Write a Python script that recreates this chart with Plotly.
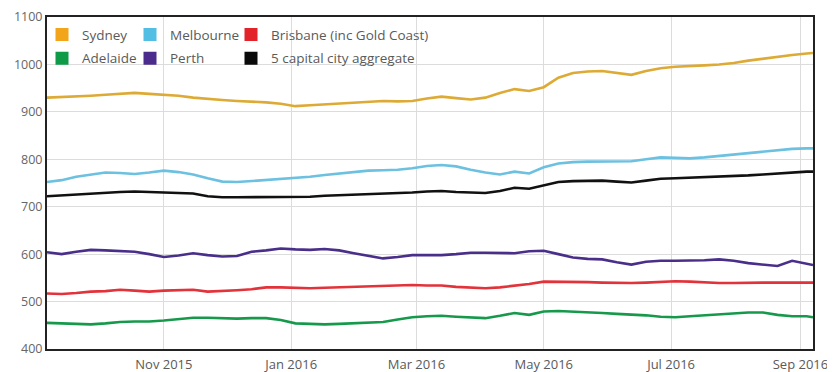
import plotly.graph_objects as go
import pandas as pd

# ---- data (weekly readings) ----
dates = list(pd.date_range("2015-09-06", "2016-09-04", freq="7D").strftime("%Y-%m-%d")) + ["2016-09-07"]

sydney = [930, 931, 932, 934, 936, 938, 940, 938, 936, 934, 930, 927, 925, 923, 922, 920, 917, 912,
          914, 916, 918, 920, 922, 923, 922, 923, 928, 932, 929, 926, 930, 940, 948, 944, 952, 972,
          982, 985, 986, 982, 978, 986, 992, 995, 996, 998, 1000, 1003, 1008, 1012, 1017, 1020, 1023, 1024]
melbourne = [752, 756, 763, 768, 772, 771, 769, 772, 776, 773, 768, 760, 753, 752, 754, 756, 758, 761,
             763, 767, 770, 774, 776, 777, 778, 781, 786, 788, 785, 778, 772, 768, 774, 770, 783, 791,
             794, 795, 795, 795, 796, 800, 804, 803, 802, 804, 807, 810, 813, 816, 819, 822, 823, 823]
brisbane = [517, 516, 518, 521, 522, 525, 523, 521, 523, 524, 525, 521, 522, 524, 526, 530, 530, 529,
            528, 529, 530, 531, 532, 533, 534, 535, 534, 534, 531, 529, 528, 530, 533, 537, 542, 542,
            541, 541, 540, 539, 539, 540, 542, 543, 542, 540, 539, 539, 540, 540, 540, 540, 540, 540]
adelaide = [455, 454, 452, 452, 454, 457, 458, 458, 460, 463, 466, 466, 465, 464, 465, 465, 461, 454,
            453, 452, 453, 454, 455, 457, 462, 467, 469, 470, 468, 466, 465, 470, 476, 472, 479, 480,
            479, 477, 476, 474, 473, 471, 468, 467, 469, 471, 473, 476, 477, 477, 472, 469, 469, 467]
perth = [604, 600, 605, 609, 608, 606, 605, 600, 594, 597, 602, 598, 595, 596, 605, 608, 612, 610,
         609, 611, 608, 602, 597, 591, 594, 598, 598, 598, 600, 603, 603, 602, 602, 606, 607, 600,
         593, 590, 589, 583, 578, 584, 586, 586, 586, 587, 589, 586, 581, 578, 575, 586, 580, 577]
aggregate = [722, 724, 726, 728, 729, 731, 732, 731, 730, 730, 728, 722, 720, 720, 720, 721, 721, 720,
             721, 723, 724, 725, 726, 727, 728, 730, 732, 733, 731, 730, 729, 733, 740, 738, 745, 752,
             754, 755, 755, 753, 751, 755, 759, 760, 761, 762, 763, 765, 766, 768, 770, 773, 774, 774]

series_names = ["Sydney", "Melbourne", "Brisbane (inc Gold Coast)",
                "Adelaide", "Perth", "5 capital city aggregate"]
series_values = [sydney, melbourne, brisbane, adelaide, perth, aggregate]
series_colors = ["#F2A41A", "#52BEE3", "#E2232A", "#0F9A48", "#4B2C8C", "#0A0A0A"]
line_colors = ["#DDAA35", "#6CC0E0", "#E2323A", "#17994C", "#4A2F8A", "#111111"]

tick_vals = ["2015-11-01", "2016-01-01", "2016-03-01", "2016-05-01", "2016-07-01", "2016-09-01"]
tick_text = ["Nov 2015", "Jan 2016", "Mar 2016", "May 2016", "Jul 2016", "Sep 2016"]
y_ticks = [400, 500, 600, 700, 800, 900, 1000, 1100]

# page body has an 8px default margin, so the figure sits 8px right/down in the window
OFF = 8
W, H = 835, 372
ML, MR, MT, MB = 39, 30, 9, 31
PW, PH = W - ML - MR, H - MT - MB

fig = go.Figure()
legend_of = ["legend", "legend2", "legend3", "legend", "legend2", "legend3"]
for name, vals, lc, sc, lg in zip(series_names, series_values, line_colors, series_colors, legend_of):
    fig.add_trace(go.Scatter(x=dates, y=vals, mode="lines", name=name,
                             line=dict(color=lc, width=2.6), legendgroup=name,
                             showlegend=False, hoverinfo="x+y+name"))
    fig.add_trace(go.Scatter(x=[None], y=[None], mode="markers", name=name,
                             marker=dict(symbol="square", size=13, color=sc),
                             legendgroup=name, legend=lg, showlegend=True))

FAM = "Open Sans, Noto Sans, sans-serif"

def sx(px):
    return (px - OFF - ML) / PW

def sy(py):
    return 1 - (py - OFF - MT) / PH

leg_common = dict(orientation="v", bgcolor="rgba(0,0,0,0)", borderwidth=0,
                  font=dict(family=FAM, size=13.5, color="#5A5A5A"),
                  xanchor="left", yanchor="top", tracegroupgap=3, itemclick=False,
                  itemdoubleclick=False)
leg_y = sy(19.3)
fig.update_layout(
    width=W, height=H,
    margin=dict(l=ML, r=MR, t=MT, b=MB, autoexpand=False),
    paper_bgcolor="white", plot_bgcolor="white",
    font=dict(family=FAM, size=12, color="#555555"),
    legend=dict(x=sx(42), y=leg_y, **leg_common),
    legend2=dict(x=sx(130), y=leg_y, **leg_common),
    legend3=dict(x=sx(231), y=leg_y, **leg_common),
    xaxis=dict(type="date", range=["2015-09-06", "2016-09-07"],
               tickvals=tick_vals, ticktext=tick_text, automargin=False,
               showgrid=True, gridcolor="#DCDCDC", gridwidth=1,
               showline=True, linecolor="#222222", linewidth=2, mirror=True,
               ticks="", tickfont=dict(family=FAM, size=13, color="#5A5A5A"),
               ticklabelstandoff=2, ticklabeloverflow="allow", zeroline=False),
    yaxis=dict(range=[400, 1100], tickvals=y_ticks, automargin=False,
               showgrid=True, gridcolor="#DCDCDC", gridwidth=1,
               showline=True, linecolor="#222222", linewidth=2, mirror=True,
               ticks="", tickfont=dict(family=FAM, size=12.5, color="#666666"), zeroline=False),
    shapes=[dict(type="rect", xref="paper", yref="paper", layer="between",
                 x0=0.002, x1=sx(428), y0=sy(68), y1=0.998,
                 fillcolor="white", line=dict(width=0))],
    showlegend=True,
)

fig.write_html("out.html")
